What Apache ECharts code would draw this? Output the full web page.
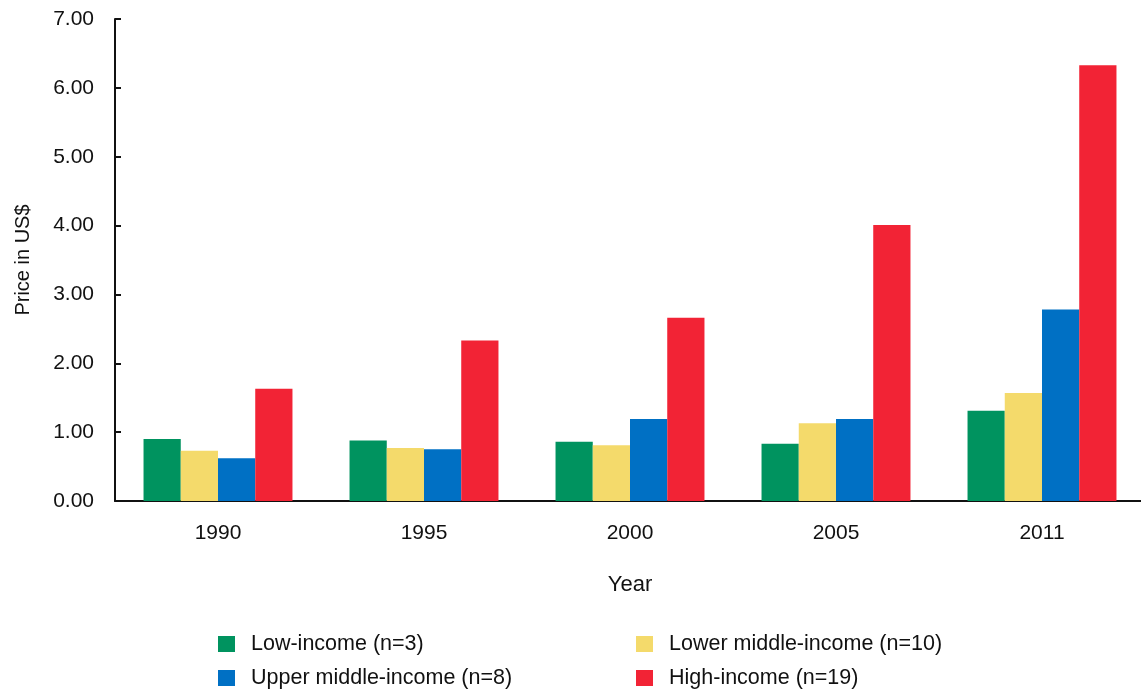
<!DOCTYPE html>
<html><head><meta charset="utf-8">
<script src="https://cdn.jsdelivr.net/npm/echarts@6/dist/echarts.min.js"></script>
<style>html,body{margin:0;padding:0;background:#fff}#c{width:1141px;height:695px}</style>
</head><body><div id="c"></div>
<script>
const years = ['1990','1995','2000','2005','2011'];
const lowIncome = [0.90, 0.88, 0.86, 0.83, 1.31];
const lowerMiddle = [0.73, 0.77, 0.81, 1.13, 1.57];
const upperMiddle = [0.62, 0.75, 1.19, 1.19, 2.78];
const highIncome = [1.63, 2.33, 2.66, 4.01, 6.33];
const seriesNames = ['Low-income (n=3)','Lower middle-income (n=10)','Upper middle-income (n=8)','High-income (n=19)'];
const colors = ['#00935F','#F4DA6B','#0070C4','#F22335'];

const font = '"Liberation Sans", Arial, sans-serif';
const chart = echarts.init(document.getElementById('c'));
const mk = (i, data) => ({
  name: seriesNames[i], type: 'bar', data: data,
  barGap: '0%', barCategoryGap: '27.7%',
  itemStyle: {color: colors[i]}
});
const leg = (i, left, top) => ({
  data: [seriesNames[i]], left: left, top: top, padding: 0,
  itemWidth: 17, itemHeight: 16, icon: 'rect',
  textStyle: {fontFamily: font, fontSize: 21.5, color: '#111', padding: [0,0,0,11]}
});
chart.setOption({
  animation: false,
  color: colors,
  grid: {left: 115, top: 19, width: 1030, height: 482, containLabel: false, outerBoundsMode: 'none'},
  xAxis: {
    type: 'category', data: years,
    name: 'Year', nameLocation: 'middle', nameGap: 73,
    nameTextStyle: {fontFamily: font, fontSize: 22, color: '#111'},
    axisLine: {lineStyle: {color: '#111', width: 2}},
    axisTick: {inside: true, length: 8, lineStyle: {color: '#111', width: 2}},
    axisLabel: {fontFamily: font, fontSize: 21, color: '#111', margin: 22}
  },
  yAxis: {
    type: 'value', min: 0, max: 7, interval: 1,
    name: 'Price in US$', nameLocation: 'middle', nameGap: 82,
    nameTextStyle: {fontFamily: font, fontSize: 20, color: '#111'},
    axisLine: {show: true, lineStyle: {color: '#111', width: 2}},
    axisTick: {show: true, inside: true, length: 6, lineStyle: {color: '#111', width: 2}},
    axisLabel: {fontFamily: font, fontSize: 21, color: '#111', margin: 21,
      formatter: v => v.toFixed(2)},
    splitLine: {show: false}
  },
  legend: [
    leg(0, 218, 633), leg(2, 218, 667), leg(1, 636, 633), leg(3, 636, 667)
  ],
  series: [mk(0, lowIncome), mk(1, lowerMiddle), mk(2, upperMiddle), mk(3, highIncome)]
});
</script></body></html>
